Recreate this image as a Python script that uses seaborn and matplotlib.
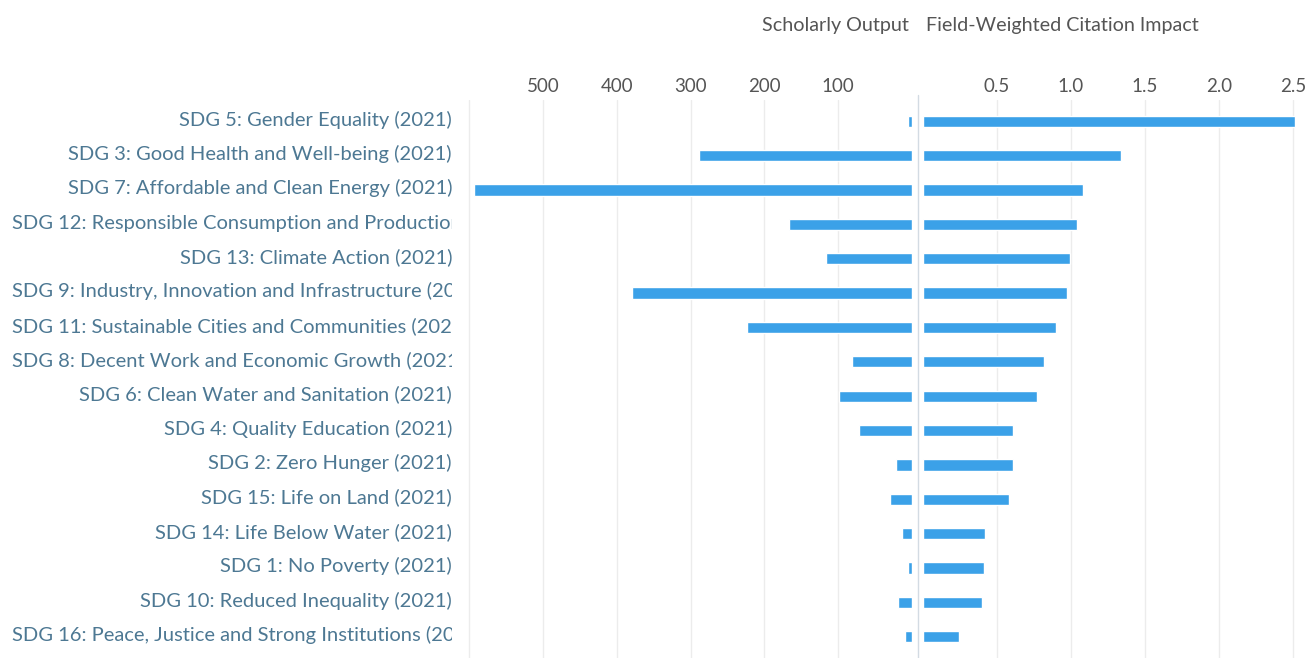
import pandas as pd
import matplotlib
matplotlib.use("Agg")
import matplotlib.pyplot as plt
import matplotlib.transforms as mtransforms
from matplotlib.lines import Line2D
from matplotlib.transforms import Bbox
import seaborn as sns

# ------------------------------------------------------------------
# data
# ------------------------------------------------------------------
labels = [
    "SDG 5: Gender Equality (2021)",
    "SDG 3: Good Health and Well-being (2021)",
    "SDG 7: Affordable and Clean Energy (2021)",
    "SDG 12: Responsible Consumption and Production (2021)",
    "SDG 13: Climate Action (2021)",
    "SDG 9: Industry, Innovation and Infrastructure (2021)",
    "SDG 11: Sustainable Cities and Communities (2021)",
    "SDG 8: Decent Work and Economic Growth (2021)",
    "SDG 6: Clean Water and Sanitation (2021)",
    "SDG 4: Quality Education (2021)",
    "SDG 2: Zero Hunger (2021)",
    "SDG 15: Life on Land (2021)",
    "SDG 14: Life Below Water (2021)",
    "SDG 1: No Poverty (2021)",
    "SDG 10: Reduced Inequality (2021)",
    "SDG 16: Peace, Justice and Strong Institutions (2021)",
]
scholarly_output = [6, 289, 594, 167, 117, 379, 223, 81, 99, 72, 22, 30, 14, 6, 19, 10]
fwci = [2.51, 1.34, 1.08, 1.04, 0.99, 0.97, 0.90, 0.82, 0.77, 0.61, 0.61, 0.58, 0.42, 0.41, 0.40, 0.24]

output_ticks = [500, 400, 300, 200, 100]
fwci_ticks = [0.5, 1.0, 1.5, 2.0, 2.5]

df = pd.DataFrame({"label": labels, "output": scholarly_output, "fwci": fwci})

# ------------------------------------------------------------------
# plotting
# ------------------------------------------------------------------
sns.set_style("white")
plt.rcParams["font.family"] = ["Lato", "DejaVu Sans"]

W, H = 1309, 658
BAR = "#3ba1e8"
GRID = "#ececec"
TICK = "#555555"
LABEL = "#4d7893"

fig = plt.figure(figsize=(W / 100, H / 100), dpi=100)
ax_l = fig.add_axes([462 / W, 0, (912 - 462) / W, 558 / H])
ax_r = fig.add_axes([923 / W, 0, (1305 - 923) / W, 558 / H])

sns.barplot(data=df, x="output", y="label", order=labels, orient="h",
            color=BAR, saturation=1, width=0.33, ax=ax_l)
sns.barplot(data=df, x="fwci", y="label", order=labels, orient="h",
            color=BAR, saturation=1, width=0.33, ax=ax_r)

for ax in (ax_l, ax_r):
    ax.set_ylim(len(labels) - 0.38, -0.62)
    ax.set_yticks([])
    ax.set_ylabel("")
    ax.set_xlabel("")
    for s in ax.spines.values():
        s.set_visible(False)
    ax.xaxis.tick_top()
    ax.tick_params(axis="x", length=0, pad=3.5, labelsize=13.5, labelcolor=TICK)
    ax.grid(axis="x", color=GRID, linewidth=1)
    ax.set_axisbelow(True)

ax_l.set_xlim(610, 0)
ax_l.set_xticks(output_ticks + [600])
ax_l.set_xticklabels([str(t) for t in output_ticks] + [""])
ax_r.set_xlim(0, 2.58)
ax_r.set_xticks(fwci_ticks)
ax_r.set_xticklabels([f"{t:.1f}" for t in fwci_ticks])

# center divider
fig.add_artist(Line2D([918 / W, 918 / W], [0, 563 / H], transform=fig.transFigure,
                      color="#d3dbe3", linewidth=1))

# headers
fig.text(909 / W, 1 - 25 / H, "Scholarly Output", ha="right", va="center",
         fontsize=14.2, color=TICK)
fig.text(926 / W, 1 - 25 / H, "Field-Weighted Citation Impact", ha="left", va="center",
         fontsize=14.2, color=TICK)

# category labels: right aligned, long ones left aligned and cut off
trans = mtransforms.blended_transform_factory(fig.transFigure, ax_l.transData)
renderer = fig.canvas.get_renderer()
clip = Bbox.from_extents(0, 0, 452, H)
for i, lab in enumerate(labels):
    t = ax_l.text(452 / W, i - 0.05, lab, transform=trans, ha="right", va="center",
                  fontsize=14.5, color=LABEL, clip_on=False)
    bb = t.get_window_extent(renderer)
    if bb.x0 < 12:
        t.set_x(12 / W)
        t.set_ha("left")
        t.set_clip_on(True)
        t.set_clip_box(clip)

fig.savefig("out.png", dpi=100)
